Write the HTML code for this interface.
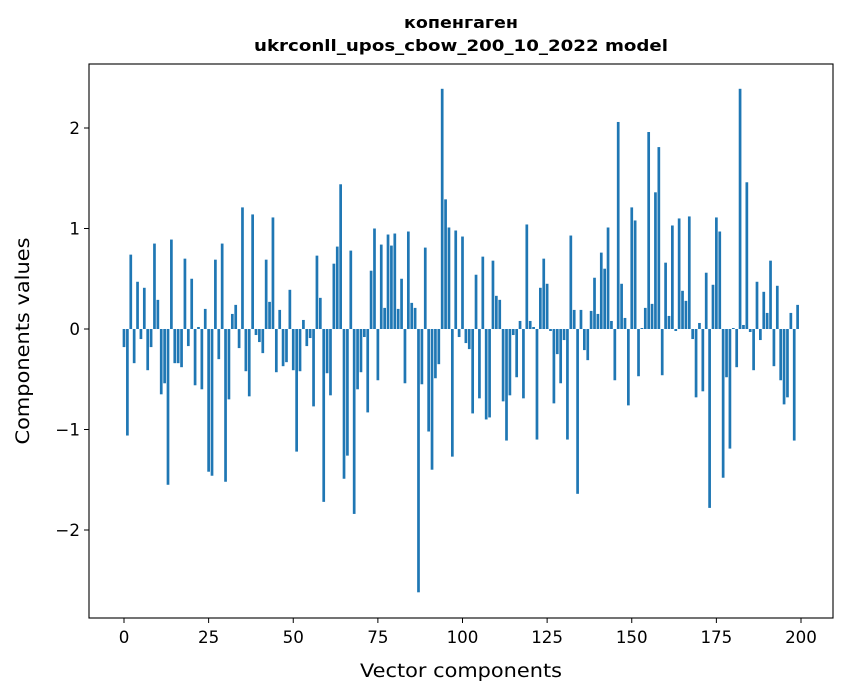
<!DOCTYPE html>
<html><head><meta charset="utf-8"><style>
body{margin:0;background:#fff;}
svg{display:block;font-family:"DejaVu Sans","Liberation Sans",sans-serif;}
</style></head><body>
<svg id="chart" width="847" height="696">
<text x="461" y="28" text-anchor="middle" font-size="16" font-weight="bold" textLength="114" lengthAdjust="spacingAndGlyphs">копенгаген</text>
<text x="461" y="51" text-anchor="middle" font-size="16" font-weight="bold" textLength="414" lengthAdjust="spacingAndGlyphs">ukrconll_upos_cbow_200_10_2022 model</text>
<g id="bars"></g>
<rect x="89" y="64" width="744" height="554" fill="none" stroke="#000" stroke-width="1.1"/>
<g id="xticks"></g>
<g id="yticks"></g>
<text x="461" y="677" text-anchor="middle" font-size="18.5" textLength="202" lengthAdjust="spacingAndGlyphs">Vector components</text>
<text transform="translate(29,341) rotate(-90)" text-anchor="middle" font-size="18.5" textLength="207" lengthAdjust="spacingAndGlyphs">Components values</text>
</svg>
<script>
const values = [-0.18,-1.06,0.74,-0.34,0.47,-0.10,0.41,-0.41,-0.18,0.85,
0.29,-0.65,-0.54,-1.55,0.89,-0.34,-0.34,-0.38,0.70,-0.17,
0.50,-0.56,0.02,-0.60,0.20,-1.42,-1.46,0.69,-0.30,0.85,
-1.52,-0.70,0.15,0.24,-0.19,1.21,-0.42,-0.67,1.14,-0.06,
-0.13,-0.24,0.69,0.27,1.11,-0.43,0.19,-0.37,-0.33,0.39,
-0.41,-1.22,-0.42,0.09,-0.17,-0.09,-0.77,0.73,0.31,-1.72,
-0.44,-0.66,0.65,0.82,1.44,-1.49,-1.26,0.78,-1.84,-0.60,
-0.43,-0.08,-0.83,0.58,1.00,-0.51,0.84,0.21,0.94,0.83,
0.95,0.20,0.50,-0.54,0.97,0.26,0.21,-2.62,-0.55,0.81,
-1.02,-1.40,-0.49,-0.35,2.39,1.29,1.01,-1.27,0.98,-0.08,
0.92,-0.14,-0.20,-0.84,0.54,-0.69,0.72,-0.90,-0.88,0.68,
0.33,0.29,-0.72,-1.11,-0.66,-0.06,-0.48,0.08,-0.69,1.04,
0.08,0.02,-1.10,0.41,0.70,0.45,-0.02,-0.74,-0.25,-0.54,
-0.11,-1.10,0.93,0.19,-1.64,0.19,-0.21,-0.31,0.18,0.51,
0.15,0.76,0.60,1.01,0.08,-0.51,2.06,0.45,0.11,-0.76,
1.21,1.08,-0.47,0.01,0.21,1.96,0.25,1.36,1.81,-0.46,
0.66,0.13,1.03,-0.02,1.10,0.38,0.28,1.12,-0.10,-0.68,
0.06,-0.62,0.56,-1.78,0.44,1.11,0.97,-1.48,-0.48,-1.19,
0.01,-0.38,2.39,0.04,1.46,-0.03,-0.41,0.47,-0.11,0.37,
0.16,0.68,-0.37,0.43,-0.51,-0.75,-0.68,0.16,-1.11,0.24];
const xTicks = [0,25,50,75,100,125,150,175,200];
const yTicks = [-2,-1,0,1,2];
const yTickLabels = ["\u22122","\u22121","0","1","2"];
const NS="http://www.w3.org/2000/svg";
const X0=124, XS=(801-124)/200, Y0=329, YS=100.5;
const xs=v=>X0+v*XS, ys=v=>Y0-v*YS;
const bars=document.getElementById('bars');
values.forEach((v,i)=>{
  const r=document.createElementNS(NS,'rect');
  
  
  const y1=Math.min(ys(v),ys(0)), h=Math.abs(ys(v)-ys(0));
  r.setAttribute('x',xs(i-0.4));r.setAttribute('width',0.8*XS);
  r.setAttribute('y',y1);r.setAttribute('height',Math.max(h,0.3));
  r.setAttribute('fill','#1f77b4');
  bars.appendChild(r);
});
const xg=document.getElementById('xticks');
xTicks.forEach(t=>{
  const l=document.createElementNS(NS,'line');
  
  
  l.setAttribute('x1',xs(t));l.setAttribute('x2',xs(t));l.setAttribute('y1',618);l.setAttribute('y2',623);l.setAttribute('stroke','#000');
  xg.appendChild(l);
  const tx=document.createElementNS(NS,'text');
  
  
  tx.setAttribute('x',xs(t));tx.setAttribute('y',643);tx.setAttribute('text-anchor','middle');tx.setAttribute('font-size','16.7');
  tx.textContent=t;xg.appendChild(tx);
});
const yg=document.getElementById('yticks');
yTicks.forEach((t,i)=>{
  const l=document.createElementNS(NS,'line');
  
  
  l.setAttribute('x1',84);l.setAttribute('x2',89);l.setAttribute('y1',ys(t));l.setAttribute('y2',ys(t));l.setAttribute('stroke','#000');
  yg.appendChild(l);
  const tx=document.createElementNS(NS,'text');
  
  
  tx.setAttribute('x',80);tx.setAttribute('y',ys(t)+6);tx.setAttribute('text-anchor','end');tx.setAttribute('font-size','16.7');
  tx.textContent=yTickLabels[i];yg.appendChild(tx);
});
</script>
</body></html>
